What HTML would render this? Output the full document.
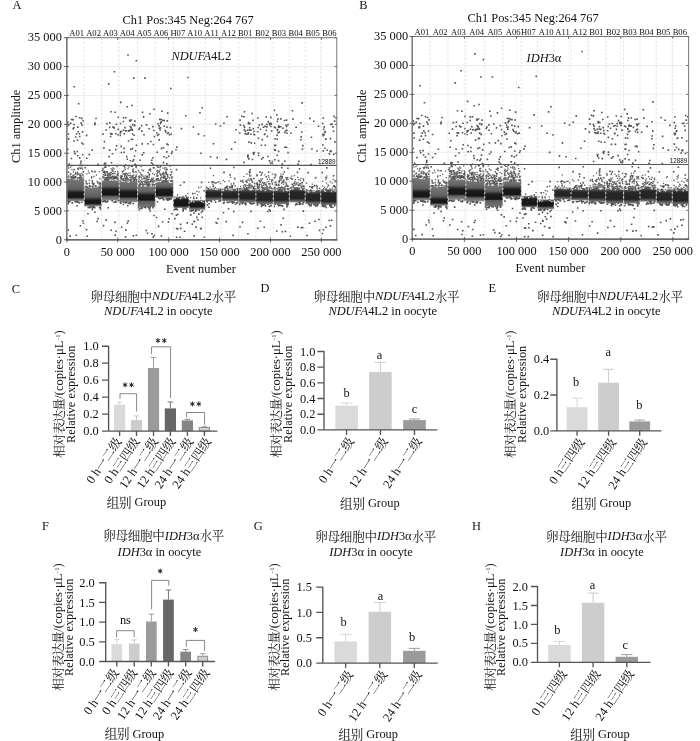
<!DOCTYPE html><html><head><meta charset="utf-8"><title>figure</title><style>html,body{margin:0;padding:0;background:#fff}svg{display:block;will-change:transform}text{font-family:"Liberation Serif",serif;font-size:12.4px;fill:#111}text.cj{font-family:"Liberation Serif","Noto Serif CJK SC",serif}</style></head><body>
<svg width="700" height="741" viewBox="0 0 700 741">
<rect width="700" height="741" fill="#fff"/>
<defs>
<linearGradient id="bg0" gradientUnits="userSpaceOnUse" x1="0" y1="177.5" x2="0" y2="201.2"><stop offset="0.000" stop-color="#7a7a7a"/><stop offset="0.325" stop-color="#6a6a6a"/><stop offset="0.498" stop-color="#5e5e5e"/><stop offset="0.578" stop-color="#3a3a3a"/><stop offset="0.641" stop-color="#1b1b1b"/><stop offset="0.840" stop-color="#161616"/><stop offset="0.899" stop-color="#585858"/><stop offset="1.000" stop-color="#9c9c9c"/></linearGradient>
<linearGradient id="bg1" gradientUnits="userSpaceOnUse" x1="0" y1="185.8" x2="0" y2="206.5"><stop offset="0.000" stop-color="#7a7a7a"/><stop offset="0.351" stop-color="#6a6a6a"/><stop offset="0.531" stop-color="#5e5e5e"/><stop offset="0.623" stop-color="#3a3a3a"/><stop offset="0.696" stop-color="#1b1b1b"/><stop offset="0.850" stop-color="#161616"/><stop offset="0.918" stop-color="#585858"/><stop offset="1.000" stop-color="#9c9c9c"/></linearGradient>
<linearGradient id="bg2" gradientUnits="userSpaceOnUse" x1="0" y1="178.2" x2="0" y2="200.5"><stop offset="0.000" stop-color="#7a7a7a"/><stop offset="0.254" stop-color="#6a6a6a"/><stop offset="0.363" stop-color="#5e5e5e"/><stop offset="0.448" stop-color="#3a3a3a"/><stop offset="0.516" stop-color="#1b1b1b"/><stop offset="0.749" stop-color="#161616"/><stop offset="0.816" stop-color="#5a5a5a"/><stop offset="0.973" stop-color="#888"/><stop offset="1.000" stop-color="#b5b5b5"/></linearGradient>
<linearGradient id="bg3" gradientUnits="userSpaceOnUse" x1="0" y1="180" x2="0" y2="202.2"><stop offset="0.000" stop-color="#7a7a7a"/><stop offset="0.260" stop-color="#6a6a6a"/><stop offset="0.374" stop-color="#5e5e5e"/><stop offset="0.459" stop-color="#3a3a3a"/><stop offset="0.527" stop-color="#1b1b1b"/><stop offset="0.761" stop-color="#161616"/><stop offset="0.829" stop-color="#5a5a5a"/><stop offset="0.973" stop-color="#888"/><stop offset="1.000" stop-color="#b5b5b5"/></linearGradient>
<linearGradient id="bg4" gradientUnits="userSpaceOnUse" x1="0" y1="184.5" x2="0" y2="207"><stop offset="0.000" stop-color="#7a7a7a"/><stop offset="0.232" stop-color="#6a6a6a"/><stop offset="0.324" stop-color="#5e5e5e"/><stop offset="0.409" stop-color="#3a3a3a"/><stop offset="0.476" stop-color="#1b1b1b"/><stop offset="0.689" stop-color="#161616"/><stop offset="0.747" stop-color="#5c5c5c"/><stop offset="0.964" stop-color="#727272"/><stop offset="1.000" stop-color="#9a9a9a"/></linearGradient>
<linearGradient id="bg5" gradientUnits="userSpaceOnUse" x1="0" y1="180.3" x2="0" y2="198"><stop offset="0.000" stop-color="#7a7a7a"/><stop offset="0.264" stop-color="#6a6a6a"/><stop offset="0.356" stop-color="#5e5e5e"/><stop offset="0.463" stop-color="#3a3a3a"/><stop offset="0.548" stop-color="#1b1b1b"/><stop offset="0.842" stop-color="#161616"/><stop offset="0.921" stop-color="#585858"/><stop offset="1.000" stop-color="#9c9c9c"/></linearGradient>
<linearGradient id="bg6" gradientUnits="userSpaceOnUse" x1="0" y1="196.6" x2="0" y2="208"><stop offset="0.000" stop-color="#7a7a7a"/><stop offset="0.106" stop-color="#6a6a6a"/><stop offset="0.000" stop-color="#5e5e5e"/><stop offset="0.167" stop-color="#3a3a3a"/><stop offset="0.298" stop-color="#1b1b1b"/><stop offset="0.798" stop-color="#161616"/><stop offset="0.921" stop-color="#585858"/><stop offset="1.000" stop-color="#9c9c9c"/></linearGradient>
<linearGradient id="bg7" gradientUnits="userSpaceOnUse" x1="0" y1="200.2" x2="0" y2="209.8"><stop offset="0.000" stop-color="#7a7a7a"/><stop offset="0.092" stop-color="#6a6a6a"/><stop offset="-0.062" stop-color="#5e5e5e"/><stop offset="0.135" stop-color="#3a3a3a"/><stop offset="0.292" stop-color="#1b1b1b"/><stop offset="0.677" stop-color="#161616"/><stop offset="0.823" stop-color="#585858"/><stop offset="1.000" stop-color="#9c9c9c"/></linearGradient>
<linearGradient id="bg8" gradientUnits="userSpaceOnUse" x1="0" y1="188.3" x2="0" y2="200"><stop offset="0.000" stop-color="#707070"/><stop offset="0.231" stop-color="#3e3e3e"/><stop offset="0.359" stop-color="#262626"/><stop offset="0.701" stop-color="#242424"/><stop offset="0.838" stop-color="#4a4a4a"/><stop offset="1.000" stop-color="#8a8a8a"/></linearGradient>
<linearGradient id="bg9" gradientUnits="userSpaceOnUse" x1="0" y1="188.8" x2="0" y2="201"><stop offset="0.000" stop-color="#707070"/><stop offset="0.221" stop-color="#3e3e3e"/><stop offset="0.344" stop-color="#262626"/><stop offset="0.713" stop-color="#242424"/><stop offset="0.844" stop-color="#4a4a4a"/><stop offset="1.000" stop-color="#8a8a8a"/></linearGradient>
<linearGradient id="bg10" gradientUnits="userSpaceOnUse" x1="0" y1="188" x2="0" y2="202.5"><stop offset="0.000" stop-color="#707070"/><stop offset="0.241" stop-color="#3e3e3e"/><stop offset="0.345" stop-color="#262626"/><stop offset="0.724" stop-color="#242424"/><stop offset="0.834" stop-color="#4a4a4a"/><stop offset="1.000" stop-color="#8a8a8a"/></linearGradient>
<linearGradient id="bg11" gradientUnits="userSpaceOnUse" x1="0" y1="188.6" x2="0" y2="204.2"><stop offset="0.000" stop-color="#707070"/><stop offset="0.218" stop-color="#3e3e3e"/><stop offset="0.314" stop-color="#262626"/><stop offset="0.731" stop-color="#242424"/><stop offset="0.833" stop-color="#4a4a4a"/><stop offset="1.000" stop-color="#8a8a8a"/></linearGradient>
<linearGradient id="bg12" gradientUnits="userSpaceOnUse" x1="0" y1="188.6" x2="0" y2="204.2"><stop offset="0.000" stop-color="#707070"/><stop offset="0.218" stop-color="#3e3e3e"/><stop offset="0.314" stop-color="#262626"/><stop offset="0.731" stop-color="#242424"/><stop offset="0.833" stop-color="#4a4a4a"/><stop offset="1.000" stop-color="#8a8a8a"/></linearGradient>
<linearGradient id="bg13" gradientUnits="userSpaceOnUse" x1="0" y1="187.6" x2="0" y2="202.3"><stop offset="0.000" stop-color="#707070"/><stop offset="0.197" stop-color="#3e3e3e"/><stop offset="0.299" stop-color="#262626"/><stop offset="0.741" stop-color="#242424"/><stop offset="0.850" stop-color="#4a4a4a"/><stop offset="1.000" stop-color="#8a8a8a"/></linearGradient>
<linearGradient id="bg14" gradientUnits="userSpaceOnUse" x1="0" y1="190" x2="0" y2="204"><stop offset="0.000" stop-color="#707070"/><stop offset="0.214" stop-color="#3e3e3e"/><stop offset="0.321" stop-color="#262626"/><stop offset="0.736" stop-color="#242424"/><stop offset="0.850" stop-color="#4a4a4a"/><stop offset="1.000" stop-color="#8a8a8a"/></linearGradient>
<linearGradient id="bg15" gradientUnits="userSpaceOnUse" x1="0" y1="189.3" x2="0" y2="205"><stop offset="0.000" stop-color="#707070"/><stop offset="0.172" stop-color="#3e3e3e"/><stop offset="0.268" stop-color="#262626"/><stop offset="0.764" stop-color="#242424"/><stop offset="0.866" stop-color="#4a4a4a"/><stop offset="1.000" stop-color="#8a8a8a"/></linearGradient>
</defs>
<path d="M66.8 210.93H336.8M66.8 182.06H336.8M66.8 153.19H336.8M66.8 124.31H336.8M66.8 95.44H336.8M66.8 66.57H336.8" stroke="#ebebeb" stroke-width=".9" fill="none"/>
<path d="M117.72 37.7V239.8M168.64 37.7V239.8M219.57 37.7V239.8M270.49 37.7V239.8M321.41 37.7V239.8" stroke="#ebebeb" stroke-width=".8" stroke-dasharray="2.2 1.6" fill="none"/>
<g id="sc">
<rect x="66.8" y="177.5" width="17.4" height="23.7" fill="url(#bg0)"/>
<rect x="84.2" y="185.8" width="17.4" height="20.7" fill="url(#bg1)"/>
<rect x="101.6" y="178.2" width="17.6" height="22.3" fill="url(#bg2)"/>
<rect x="119.2" y="180" width="18.4" height="22.2" fill="url(#bg3)"/>
<rect x="137.6" y="184.5" width="17.7" height="22.5" fill="url(#bg4)"/>
<rect x="155.3" y="180.3" width="18" height="17.7" fill="url(#bg5)"/>
<rect x="173.3" y="196.6" width="15.7" height="11.4" fill="url(#bg6)"/>
<rect x="189" y="200.2" width="16.3" height="9.6" fill="url(#bg7)"/>
<rect x="205.3" y="188.3" width="16.6" height="11.7" fill="url(#bg8)"/>
<rect x="221.9" y="188.8" width="16.9" height="12.2" fill="url(#bg9)"/>
<rect x="238.8" y="188" width="17.1" height="14.5" fill="url(#bg10)"/>
<rect x="255.9" y="188.6" width="17.4" height="15.6" fill="url(#bg11)"/>
<rect x="273.3" y="188.6" width="16" height="15.6" fill="url(#bg12)"/>
<rect x="289.3" y="187.6" width="15.9" height="14.7" fill="url(#bg13)"/>
<rect x="305.2" y="190" width="15.6" height="14" fill="url(#bg14)"/>
<rect x="320.8" y="189.3" width="16" height="15.7" fill="url(#bg15)"/>
<path d="M76.9 178h0M68.5 168h0M71.2 176.9h0M73.9 169.8h0M72.8 176.1h0M71.5 178.5h0M70.4 167.3h0M81.6 178.6h0M83.3 177.1h0M68.7 176h0M81.3 178.5h0M82.5 169.2h0M69.2 177.5h0M79 173.8h0M73.4 171.8h0M81.7 173.4h0M76.8 178.7h0M82 167.8h0M73.6 177.2h0M73.7 178.9h0M80.9 175.6h0M75.5 172.3h0M78.3 169.3h0M72.6 177.4h0M71.9 169.6h0M68.1 178.8h0M76.6 177.3h0M67.9 166.2h0M68.3 176.8h0M78 174.2h0M70.4 174.9h0M73 175.3h0M79.6 175.1h0M80.6 174.5h0M74.6 177.1h0M80.1 176.4h0M79.1 167.8h0M75.9 178.3h0M73.6 177h0M70.7 178.6h0M74.1 175h0M75.1 178.4h0M77.4 172.2h0M67.9 178h0M77.4 174.9h0M74.5 169.3h0M77.6 172.9h0M82.2 177.7h0M99.9 186.8h0M92.2 180.6h0M86.9 173.8h0M91.6 178h0M99.1 182.8h0M89.3 183.6h0M100.5 183.1h0M91.7 171h0M86.1 180.9h0M89.1 183.4h0M100.7 184.1h0M92.7 171.6h0M86.2 182h0M96.5 175.1h0M94 176.5h0M93.1 185.3h0M99.2 171.7h0M97.1 181.3h0M93.5 186.8h0M96.2 186.6h0M87.3 183.9h0M91.7 176.7h0M92.2 183.5h0M88.4 170.9h0M89.4 180.4h0M99.1 184.2h0M100.2 185.8h0M100 178.5h0M93.2 183.9h0M92.5 181.5h0M89.1 173h0M100.7 185.1h0M92.4 182.5h0M93.3 184.3h0M114.9 173.7h0M108.2 175.3h0M115 177.1h0M102.9 176.4h0M107.8 173.2h0M114 178.8h0M104 176.8h0M106.9 178.5h0M117.5 177.3h0M107.5 174.4h0M109.1 173.7h0M104.4 167.6h0M107.1 178.1h0M109.4 175.9h0M104.7 172.2h0M110.4 175.4h0M110.7 177h0M106 179.4h0M111 178.4h0M102.8 168.5h0M116.7 178.5h0M117 166.7h0M113.1 176.5h0M114 173.4h0M105.6 177.7h0M116.5 179.3h0M105.2 177.7h0M110.6 176.5h0M113 171.1h0M112 179.1h0M109.9 173.1h0M104.3 179.4h0M106 177.7h0M111.8 178.6h0M117 179.6h0M103.1 178.8h0M115.3 171.7h0M111 174.5h0M117.6 171.7h0M112.8 176.1h0M114.1 168.9h0M115.9 176.6h0M110.2 175.1h0M107.4 175.5h0M112.2 170.8h0M114.6 176.2h0M114.8 173.6h0M106.5 178.4h0M116 178.5h0M107.6 178.1h0M116.8 174.8h0M111.1 168.9h0M109.8 174.3h0M110 175.3h0M106.6 178.1h0M104.9 171.4h0M108.3 177h0M108.2 175.1h0M103 177.6h0M107.9 174.5h0M108.3 175.5h0M112.4 169.6h0M115.1 179.3h0M106.4 178.7h0M104.6 175.1h0M111 177.9h0M109.4 177.7h0M114 177.9h0M113.2 171.5h0M107.5 173.7h0M113.1 168h0M108 179.6h0M107 177.3h0M106.7 178.9h0M114.7 178.1h0M110.9 178.7h0M107.6 174.5h0M118.3 175.9h0M103.4 174.5h0M103.1 169.5h0M121.9 176.7h0M123.3 180.6h0M126 181.4h0M121 177.5h0M136.1 172.4h0M122.2 176.4h0M125.7 179.9h0M130.2 173.1h0M130.9 177.5h0M125.9 180.6h0M124.9 167.9h0M120.9 178h0M130.3 181h0M133.8 172.3h0M136.3 166.3h0M135.2 180.7h0M127.2 177.4h0M125.3 169.4h0M128.2 173.4h0M136.2 181h0M124.5 166.7h0M133.8 178.9h0M132.9 178.2h0M127 174.9h0M127.4 180.2h0M127.3 177.6h0M134 177.4h0M136.1 167.6h0M126.3 173.3h0M128.1 179h0M123.9 181.2h0M133.9 174.9h0M123.9 180.1h0M134.3 177.6h0M123.6 178.5h0M129.8 175.4h0M120.3 177.2h0M124.2 174.3h0M135.5 177.3h0M135.8 178h0M125.8 180.6h0M121.1 179.5h0M123.1 174h0M123.3 174.1h0M121.3 176.9h0M125 181.1h0M136.2 180.5h0M136.4 165.9h0M125.8 178.9h0M127.6 174.1h0M128 168.6h0M131 178.1h0M132.9 178.2h0M133.2 171.9h0M131.4 180.7h0M135.8 171.7h0M123 171.3h0M132.8 169.4h0M125.5 180.3h0M136.4 174.8h0M135.9 179.1h0M126.7 181.2h0M132.4 166.7h0M133.5 169.2h0M125.1 173.1h0M130.5 175.5h0M129.1 179.7h0M136.6 179.7h0M123.9 170.4h0M128.4 175.7h0M121.4 181h0M123.6 173.7h0M133.4 181.2h0M131.2 180.4h0M131.7 179.5h0M120.9 175.6h0M134.7 179.4h0M123.8 166.2h0M124.6 176.7h0M124.7 180.9h0M129.8 177.5h0M128.9 167h0M126.8 180.7h0M151.5 178.5h0M153.3 178h0M150.7 169.5h0M149.2 175.6h0M149.4 183h0M148 184.8h0M144.6 181.2h0M149.3 177.1h0M138.4 170.4h0M144.3 184.5h0M141 174.3h0M142.3 182h0M145.5 182.3h0M142 184.9h0M147 183.5h0M144.1 177.1h0M152.4 185.1h0M150 184.4h0M143.4 184.5h0M142 169.7h0M152.7 181.8h0M138.5 180.8h0M145.1 179.1h0M142.7 179.1h0M149.6 170h0M148.9 179.3h0M147.9 172.4h0M148.8 170.1h0M139 178.5h0M152.5 173.5h0M148.3 173h0M140.7 183.9h0M154.4 180.3h0M141.3 182.1h0M150.5 181.8h0M154.3 167.9h0M152.1 184.7h0M142.6 184.5h0M148.8 185.9h0M140.3 172.8h0M146.2 183.8h0M141.7 179.1h0M149.2 185.1h0M146.5 183.2h0M145.8 184.4h0M153.2 181.6h0M146.1 184.8h0M139.9 183.1h0M144.4 184.4h0M143.6 170.8h0M141.8 174.9h0M139.9 176.8h0M148.2 185.2h0M139.9 185.1h0M143.4 170.6h0M140.7 180.6h0M141.3 177.3h0M149.8 185.6h0M154.2 174.5h0M141.3 174.4h0M146.7 176.9h0M142.3 183.5h0M146.6 184.7h0M142 175.7h0M146.5 178.1h0M154.2 181.6h0M142.4 184.2h0M147.6 179.6h0M147 185.6h0M139.4 181.5h0M141.7 182.1h0M139.7 175.9h0M145.9 181h0M145.5 175.8h0M150.6 171.2h0M148.5 179.7h0M143.2 176.1h0M138.9 171.9h0M141.1 181.6h0M145.1 178.2h0M148.8 184.1h0M139.3 179.1h0M148.5 185.2h0M148.8 183.5h0M152 184.2h0M152.1 184.2h0M147.5 180h0M143.9 178.4h0M146 184.9h0M143.5 184.1h0M153.1 182.2h0M152.2 182.1h0M143.1 181.5h0M145.7 184.5h0M138.5 181.9h0M151.4 181.2h0M141 166.6h0M144.6 182.7h0M140.6 185.4h0M147.8 178h0M156.9 171.3h0M166.6 173.2h0M156.1 179.6h0M157.7 172.2h0M170.8 169.5h0M157.1 174.2h0M158.2 179.7h0M165.4 181.6h0M166.1 170h0M169.1 177.3h0M156.5 178.9h0M171.3 177h0M167.6 176.7h0M160.6 175.1h0M171.9 171.7h0M156.9 175.3h0M159.7 181.1h0M163 168.2h0M166.1 174.4h0M159.9 179.8h0M172 177.5h0M171.1 174.5h0M159.4 171.5h0M157 176.4h0M164.9 178.5h0M164 176.9h0M171.5 172.5h0M158.1 180.9h0M166.7 168.1h0M157 178.7h0M165.4 181h0M157 179.5h0M158.4 178.4h0M157.4 173.2h0M160.6 179.7h0M166.5 179.2h0M156.8 180.9h0M156.3 180.7h0M165.6 179.7h0M166.1 180.4h0M161.2 175.1h0M160 167.7h0M170.3 174.9h0M162.1 177.3h0M163.3 174.7h0M157.4 170.3h0M166 174.2h0M167.4 175.6h0M163.2 178.1h0M165.8 172h0M166 178.3h0M172.5 177.2h0M163.6 180.3h0M171.8 178.5h0M170.4 175.4h0M159.9 173.6h0M163.9 175.5h0M167.8 174.6h0M172.3 181h0M170 166.3h0M156.9 166.2h0M162.2 180.4h0M157.6 178.7h0M167.4 169.7h0M166.7 174h0M165 167.5h0M167.3 178.1h0M164.9 181.7h0M157.8 178.4h0M164.2 180.9h0M171.3 172.2h0M161.9 176.8h0M160.2 174h0M163.2 172.3h0M165.1 176.8h0M158.6 181h0M158.2 175.9h0M168.2 181.2h0M157.2 176.4h0M169.3 178.1h0M164.7 168.8h0M160.1 169.8h0M161.1 175.5h0M187.7 193.4h0M186.1 196.2h0M182.1 198.1h0M177.5 195h0M183 196.3h0M185.9 195.5h0M181.3 197.6h0M201 187.2h0M200.7 200.3h0M198.9 191.9h0M201 201.1h0M195.1 193.3h0M190.6 197.7h0M198.7 187.5h0M197.5 194.8h0M196.9 191.3h0M193.6 196.8h0M200.6 197.9h0M220.6 183.7h0M215.3 189h0M215.1 183.4h0M216.6 182.9h0M214.5 189.4h0M213.1 182.1h0M212.9 184.5h0M215.3 187.4h0M208.2 188.5h0M206.5 187h0M219 181.9h0M214.8 182.7h0M218.1 182.2h0M210 187.2h0M207.1 187.9h0M213.4 175.7h0M208.7 182.4h0M233.7 183.1h0M229.1 180.8h0M233.8 184h0M223.3 180.4h0M230.5 177.3h0M227.8 188.2h0M224.6 181.7h0M225.3 188.4h0M226 188h0M223.4 189.8h0M232.8 189.7h0M226.7 187.6h0M229.2 186.9h0M231.2 184h0M227.5 186.1h0M233.5 189.5h0M235.2 186h0M227.2 188.6h0M249.7 176.1h0M240.1 189h0M245.4 186.6h0M247.2 188.2h0M252.1 185.8h0M251 186.8h0M249.5 174h0M243.4 185.7h0M251.7 185.4h0M248.8 178.8h0M254.9 183.9h0M249.7 180.6h0M246.1 185.3h0M241.1 180.6h0M247 180.2h0M243.4 189.1h0M239.9 189h0M252 180.4h0M249.1 188.3h0M250.1 186.8h0M240.6 186.5h0M246.9 174h0M250 183.8h0M246.4 181.1h0M246.6 187.4h0M251.1 187.9h0M254.6 186.1h0M244.1 187.7h0M245.8 181.3h0M250.7 178.9h0M242.7 181.6h0M248.8 184.1h0M247.9 180.1h0M249.3 185.6h0M250.6 189.3h0M243.5 187.3h0M241.1 180.6h0M252 180.2h0M247.9 185.7h0M249.2 186h0M251.9 180.5h0M247.4 188.5h0M240.8 181.3h0M254.9 186.5h0M252.1 181.5h0M252.4 182.3h0M249.8 184.3h0M243.2 182.6h0M252.7 186.8h0M253.3 187h0M249.6 175.8h0M254 189h0M243.9 176.7h0M250.9 175.9h0M242.8 180.3h0M250.8 185.3h0M247.9 188h0M251.3 185.4h0M246.7 188.3h0M254.4 183.2h0M267.2 189.8h0M256.9 174.5h0M266.4 187.2h0M267.4 179.1h0M271.1 188.6h0M267 182.2h0M267.7 187.8h0M268.6 181.3h0M263.3 182.8h0M257.7 188.7h0M259.5 187.2h0M261.9 189.1h0M271.6 187.7h0M260.7 179.2h0M263.6 188.2h0M272.4 189.1h0M268.9 177.4h0M261.9 185.4h0M265.6 189.3h0M265 187.5h0M261.8 185.4h0M262.5 178.7h0M271.8 180.1h0M262.4 182.5h0M271.5 181.4h0M267.6 187h0M269.6 179.3h0M260.3 181.9h0M257.3 188.1h0M261.4 174.5h0M257.3 186.4h0M264.6 182.7h0M259.7 186.9h0M258.8 180.5h0M258.5 186.3h0M272.2 183h0M268.4 175.7h0M261 184.2h0M261.1 175.4h0M257.8 184.4h0M262.3 187.7h0M257.1 182.4h0M269.8 184h0M266.7 185.7h0M261 189.9h0M259.5 184.2h0M263.3 187.6h0M264.9 174.9h0M265 189.3h0M272.4 184.3h0M263.6 185.3h0M262.1 186.4h0M265.1 189.6h0M261.4 180.5h0M257.3 184.9h0M270.1 186.5h0M269.9 189.6h0M269.9 186.1h0M257 189.9h0M267.4 189.4h0M257.6 186.6h0M262.4 189.7h0M272.4 174.2h0M259.2 180.7h0M267.7 190.1h0M260.1 181.6h0M269.5 183.8h0M268.7 189.4h0M257.6 187.9h0M259.3 184.9h0M266 184h0M257.5 189.3h0M267 188.2h0M270.6 189.7h0M267.1 189.9h0M259.5 185.3h0M257.4 183.7h0M283.2 174h0M281.6 183.3h0M286.1 182.5h0M274.1 188.5h0M275.9 182h0M279.2 182.5h0M280.2 178.7h0M280 187.4h0M286.7 185.1h0M285.8 186.1h0M278.5 184.5h0M288 179.7h0M279.3 189.9h0M287.8 189.3h0M282.7 187.8h0M277 189.2h0M286.5 184.5h0M277.9 189.2h0M276.8 185.4h0M279 180.9h0M283.5 184.4h0M279.7 180.3h0M281.7 186.8h0M283.7 180h0M283.4 187.8h0M283.5 181.3h0M276.3 183.9h0M283.8 182.6h0M286.6 178.7h0M281.2 180h0M283.2 188.5h0M278 188.9h0M275.1 184.8h0M286.6 185.6h0M280.9 174.1h0M285.6 190h0M284.1 180.7h0M279.4 187.3h0M278.4 187.5h0M286 183h0M275 182.6h0M285.8 177.7h0M280.2 188.1h0M282.9 189.1h0M283 182.2h0M277.7 188.6h0M276.5 188.9h0M280.4 189.3h0M288.3 188.6h0M275.8 175h0M285.4 189.6h0M287.3 185.9h0M284.9 186.8h0M284.8 187.5h0M282 182.3h0M286.5 179.5h0M287.7 186.6h0M279.9 177.2h0M279.9 178.4h0M281.9 187h0M281 187.7h0M275.5 176.9h0M282.9 181.5h0M282 178.6h0M282.3 187.4h0M285.9 186h0M300.4 180.1h0M295.5 179.7h0M303.5 179h0M302.5 182.5h0M303.6 180.6h0M291.7 187.3h0M294.9 181.3h0M291.1 187.4h0M303.8 186.3h0M298 182.7h0M299.7 188.4h0M296.9 187.8h0M301.9 184.2h0M298.8 179.7h0M295.1 185h0M301.1 178.3h0M301.9 186.5h0M302.2 182.4h0M301.6 186.5h0M291.8 176.2h0M298 185.2h0M294.4 175.6h0M298 188.7h0M299.5 183.8h0M300.6 185.6h0M298.4 185.5h0M293.4 185.4h0M297.7 177.5h0M303.1 185.8h0M301.3 187.1h0M303.4 180.2h0M294.9 187.5h0M297.9 188.5h0M296.2 182.9h0M301.3 188h0M300.6 183.5h0M294.6 183.5h0M306.5 183.3h0M317.7 188.9h0M311 191h0M306.7 189.7h0M307.3 190.2h0M317.4 186.3h0M312.3 184.2h0M307.2 191.5h0M316.1 185.8h0M319.6 188.4h0M316.8 187.8h0M316.4 185.8h0M307.5 191.3h0M316 177.5h0M315.2 178.4h0M319.8 188.7h0M309.6 186.7h0M316.6 185.3h0M335.4 186.8h0M324.6 187.4h0M333.3 179.3h0M325.7 179.7h0M327.4 187.2h0M323.6 188.7h0M333.9 185.6h0M332.3 188.2h0M330.3 189.6h0M328.6 185.8h0M332.4 183.1h0M325.5 177.5h0M322.9 190.1h0M322.6 181.2h0M334.8 180.9h0M333.3 186h0M329.8 188.9h0M326.6 178h0M336 180.3h0M330.3 181.9h0M326.8 176.2h0M334.8 186.2h0M328 184.8h0M322.7 186.1h0M333.2 190h0M333.7 190h0M326.5 183.1h0M335.2 188.2h0" stroke="#646464" stroke-width="1.3" stroke-linecap="square" fill="none"/>
<path d="M74 179.2h0M67.8 178.3h0M78.4 179.6h0M82.9 178.2h0M75.6 179.3h0M75.5 179.2h0M70.6 178.1h0M69.2 178h0M76.3 178.9h0M76.6 178.2h0M70.5 178.3h0M96.2 186.7h0M93.9 187.1h0M85.1 188h0M97.7 186.6h0M94.7 186.8h0M90.9 187.2h0M89.7 186.9h0M91.2 187.5h0M89 186.6h0M115.9 180h0M102.7 179h0M103.4 179.7h0M111.7 179.2h0M110 180.3h0M110.4 180.1h0M116.6 180.1h0M103.5 179.4h0M117.2 180.2h0M114.9 179.6h0M102.5 180h0M113 180.3h0M103.2 179.8h0M128.9 180.8h0M132.9 180.6h0M122.5 181.4h0M124.6 181.7h0M132.2 181h0M132.9 181.6h0M131.9 181.3h0M127.3 180.6h0M128 182.2h0M135 180.6h0M121.2 180.9h0M131.7 181.2h0M122.1 181.2h0M129.6 181.8h0M144.5 186.2h0M150.9 186.7h0M145 185.8h0M153.4 186h0M149.7 185.1h0M145.5 185.4h0M141.1 186h0M144.5 185.8h0M151.4 185.2h0M147.3 185.9h0M141.3 185.6h0M146.7 185.9h0M169.7 181.5h0M165.2 181.7h0M162.1 180.8h0M160.6 181.6h0M171.7 181h0M170.9 182.5h0M169.1 181.3h0M156.4 182.3h0M157.2 181.3h0M171.5 182h0M169.6 182.3h0M159 181.7h0M157.6 181.4h0M175.2 198.2h0M180.5 198.6h0M174.7 198.5h0M185.2 197.6h0M174.7 198.7h0M203.2 202.4h0M201.5 201.3h0M193.7 201.8h0M191.6 201h0M191.1 201.8h0M215.3 189.4h0M207 189.4h0M213 189.1h0M219.1 188.8h0M210.2 188.9h0M216 188.9h0M217.3 189.7h0M236.5 189.9h0M226.4 189.4h0M230.9 189.9h0M237.3 190.4h0M229.3 189.5h0M223.4 190.5h0M232.1 190.1h0M249 188.5h0M252.5 188.7h0M251 190.1h0M242.9 189h0M250.8 188.9h0M251.5 189.3h0M250.9 189.8h0M252.8 189.1h0M253.4 189.4h0M241.1 189.8h0M249.7 189.7h0M257 189.1h0M265.5 189.9h0M265.4 190.6h0M270 189.3h0M272.1 189.9h0M264.1 189.3h0M260.4 189.4h0M261.1 190h0M260.8 189.5h0M258.4 189.2h0M271.1 189.8h0M285 189.5h0M274.8 190.1h0M276.5 190.1h0M283.5 190.8h0M284 189.6h0M276.9 189.5h0M286.7 190.7h0M287.8 190.6h0M286.1 189.5h0M286.7 190.3h0M280.3 190.3h0M290.5 189.7h0M304.1 189.5h0M292.8 189.2h0M292.9 188.6h0M301.4 189.7h0M290.2 189.5h0M300.3 189.3h0M292.2 188.7h0M300.8 188.4h0M310.2 190.7h0M312.9 190.8h0M315.2 190.6h0M307.9 191.2h0M314.1 191.5h0M308.6 192.2h0M331.5 191.5h0M335.6 190.8h0M334.9 190.8h0M324.5 190.7h0M325.4 191.4h0M333.2 189.9h0" stroke="#fff" stroke-opacity=".8" stroke-width="1.3" stroke-linecap="square" fill="none"/>
<path d="M82.9 175h0M83.4 171.9h0M81 177h0M73.9 177.8h0M80.6 168.4h0M70.8 174h0M78 168.6h0M79 177.8h0M74.9 177.4h0M68.6 172.3h0M75.4 176.9h0M75.8 173.9h0M71.2 177.1h0M81.7 165.4h0M71.4 158.5h0M71.7 165.6h0M80.8 163h0M80.1 165.4h0M83.3 144.1h0M69.1 164.1h0M82.7 154.8h0M79.7 157.9h0M75 153.6h0M74.4 151.6h0M67.8 149.3h0M81 161.3h0M74 141h0M70.7 123.3h0M67.8 122.1h0M81.8 118.4h0M81.2 123.1h0M77.6 140.2h0M75.6 137h0M83.2 120.8h0M82 125.1h0M79.4 133.7h0M74 124.6h0M81.8 143h0M79.7 117.7h0M79.7 136.5h0M68.7 138.9h0M73 119.6h0M73.2 128.6h0M77.7 127.1h0M82.6 131.9h0M78.1 131.8h0M76.6 134h0M76 116.5h0M77.8 155.8h0M78.7 103.8h0M67.9 125.6h0M77.3 151.5h0M73.9 127.8h0M68.4 134h0M69.1 124.5h0M71.5 119.5h0M76.3 235.2h0M82.9 221h0M83.4 223.2h0M80.4 225.7h0M77.1 205.7h0M68.3 230h0M70.1 236.1h0M75.1 201.8h0M77.3 202.3h0M68.5 202.2h0M75.9 201.5h0M77.1 201.7h0M78 201.8h0M76.5 201.5h0M72.3 202.9h0M67.8 201.2h0M70 201.5h0M79.5 203h0M79.4 202.6h0M68.3 203.8h0M68.7 201.3h0M81.9 202.3h0M97.9 182.6h0M100.1 183.5h0M94.9 171.6h0M89.8 185.8h0M93.9 183.9h0M86 186.7h0M95.6 185.9h0M89.8 186.5h0M86.4 183.7h0M92.3 150.1h0M98.1 164.2h0M85.1 167.7h0M86.7 158.3h0M89.3 154.6h0M95.1 123.1h0M86.6 135.4h0M94.8 124.6h0M95 212.2h0M88 213.7h0M92.3 209.4h0M86.5 229.6h0M100.6 209.2h0M97.2 221.4h0M98 218.6h0M87.2 236.3h0M88.2 207.5h0M92.6 207.8h0M99.6 207.7h0M94.7 207.7h0M90 206.6h0M100.6 207.3h0M93.4 206.5h0M89.8 207.2h0M92 207.1h0M90.2 206.7h0M89.6 207.8h0M89 207.5h0M93.5 206.7h0M94.7 207.2h0M93.1 207.1h0M105.1 173.4h0M102.4 170.5h0M113.5 178.2h0M107.1 171.7h0M106.3 178h0M111.1 172.5h0M113.5 178h0M118.1 173.2h0M117.8 174.9h0M114.9 178h0M104.3 171.6h0M103.5 172.3h0M112.4 176.8h0M114.3 177.3h0M108.5 177.5h0M116.9 177.7h0M105.7 167.3h0M107.3 179.6h0M105.6 175.3h0M112.7 173.7h0M115.8 177h0M111.3 177.9h0M106.7 171.9h0M104.5 163.9h0M105.7 163.6h0M104.9 163.3h0M105.3 166h0M108.8 165.8h0M103.9 148.1h0M116.6 145.7h0M112.5 153.8h0M111.5 162.8h0M115.8 149.6h0M109.6 150.1h0M109.1 156.6h0M106.1 130h0M110.6 136.5h0M102.9 134.1h0M111.9 133.9h0M111.9 134.1h0M109.9 122.9h0M118.3 129.4h0M114.2 127.9h0M118.3 134.9h0M104.4 141.6h0M118.3 117.3h0M115.9 133.7h0M112.8 127h0M115.2 112.3h0M110.6 133.6h0M116.4 124.2h0M113.8 127.5h0M109.7 127.4h0M111 111.7h0M106.9 123.6h0M103.5 225.6h0M115 222.4h0M106.2 220.1h0M116.1 231.3h0M111.2 230.2h0M115.2 235.1h0M108.2 207.8h0M104 201h0M102.9 201.7h0M115.8 202.3h0M104.2 200.9h0M116 201.4h0M112.3 200.8h0M118.3 200.7h0M105.7 202h0M114.1 202.1h0M105.5 201h0M102.6 201.5h0M107.8 201.1h0M106.8 201.9h0M112.1 200.7h0M104.4 201.1h0M126.5 176.4h0M136 176.3h0M130.9 181.4h0M122.6 179.2h0M126.7 178.3h0M132.7 175.9h0M132.9 171.1h0M132.1 176.6h0M134.4 179.5h0M121.7 176.1h0M125.2 174.7h0M133.2 181.2h0M136.1 166.4h0M131.6 166.3h0M122.4 171.8h0M127.6 179.7h0M121.3 177.8h0M134.4 180.2h0M124.8 175h0M133.4 178.4h0M125.1 178.4h0M130.4 180.1h0M136.2 165.3h0M127.3 159.2h0M132.8 161.3h0M130.8 149.4h0M135.2 164.4h0M129.1 130.6h0M133.7 159.9h0M134.5 156h0M121.4 152.5h0M124.1 152.3h0M126.8 156.6h0M132.5 148.6h0M130.4 160.7h0M124.1 148.4h0M136.6 145.3h0M135.6 150.7h0M125.6 165h0M129.7 120.3h0M132.4 139.3h0M120.5 123.5h0M121.5 131.5h0M131.1 128h0M123.4 121.5h0M120.3 132.9h0M134.7 125h0M132.4 130.1h0M130.5 130h0M131.4 139.5h0M128.5 131.3h0M134.9 121.1h0M121.2 146.4h0M130.2 126.5h0M130.1 121.2h0M123.5 117.8h0M125 127.6h0M129.9 130.3h0M132.2 129.5h0M134.1 135.3h0M125.8 130.7h0M126.4 130.7h0M134.5 125.7h0M132.6 134h0M127.3 106.8h0M123.6 130.2h0M131 127.3h0M132 105.5h0M125.7 117.7h0M124.3 133.9h0M131.5 120h0M120.4 131.6h0M132.7 124.6h0M128.6 141h0M120.3 135.4h0M125.8 230.1h0M125.5 236.9h0M133.4 235.9h0M128.2 221.1h0M136.3 235.3h0M121.6 227.3h0M127.8 205.6h0M127.4 223.2h0M120.3 202.4h0M120.8 203.3h0M120.1 202.8h0M126.1 202.3h0M123.6 202.3h0M129.7 202.7h0M128.6 203.2h0M126.8 202.4h0M133.3 203.6h0M130.3 203.6h0M123.4 204.5h0M130.7 202.5h0M120.4 202.2h0M120.9 202.4h0M129.8 202.6h0M125.5 202.9h0M151.1 180h0M148.3 181.9h0M147.4 176.4h0M152.9 181h0M154.4 184.7h0M152.6 179.3h0M147.2 179.7h0M149.5 174.4h0M139.7 184.6h0M150.2 169.2h0M153.1 184.4h0M146.7 182.3h0M147.9 185.4h0M150.4 181.3h0M138.8 176.8h0M149.2 184.6h0M153.5 167.8h0M147 184.4h0M152.9 164.4h0M152.9 157.7h0M140.2 160.2h0M151.6 162.9h0M143.7 152.8h0M148 143.8h0M153.4 144.5h0M151.8 160.2h0M142.3 154.9h0M144 134.7h0M154.4 136.6h0M139.8 128h0M141.7 125.8h0M139 129.4h0M142.2 143.9h0M152.9 126.6h0M142.6 112.2h0M154.1 109.3h0M150 113.8h0M150.8 141.5h0M146.6 124.9h0M149.1 128.8h0M143.6 116.9h0M154.1 130.5h0M141.8 131.1h0M153.9 215.5h0M153.3 237.1h0M152.1 233.8h0M147.5 233.2h0M150.2 211h0M151.9 233.7h0M139.3 210h0M146.3 230.5h0M154.4 235.4h0M145.6 207.7h0M149.6 208.4h0M144.3 207.2h0M152.9 207.3h0M150.1 207.3h0M141.7 208.1h0M145.7 207.5h0M140.1 208.2h0M138.4 207.6h0M142 207.4h0M141.9 208.4h0M153.1 207.8h0M149.3 209.1h0M148.2 207.2h0M150.2 207.7h0M165.8 179.1h0M162.6 181.7h0M162.4 174h0M158.1 167.1h0M160.8 178h0M171.3 181.3h0M166.1 172.6h0M172.2 180.7h0M166.3 181.5h0M164 177.1h0M159 171.6h0M160.6 166.1h0M165.8 181.3h0M164 173.5h0M163.6 181.7h0M164.8 176.2h0M163.4 162.8h0M166.5 157.7h0M168.7 156.2h0M168 144.7h0M163.5 162.6h0M166.8 163.9h0M161.5 148.4h0M167 144h0M163.5 147.8h0M172.3 151.6h0M166.9 151.9h0M164 156.7h0M157.2 152.3h0M171.6 153.4h0M168.4 132.7h0M162.1 111.3h0M164.2 120.6h0M159.8 119.4h0M170.4 127.6h0M165.9 132h0M160.5 127.9h0M156.8 133h0M165.2 130.5h0M159.2 139.9h0M162.5 120.3h0M167.6 133.5h0M169.6 134.7h0M161.4 122h0M167.3 120.9h0M167.7 113.1h0M159.3 128.2h0M157.5 135.4h0M157.9 123.8h0M160.1 130h0M161 119.5h0M166.9 127.1h0M160.8 122.3h0M159 125.9h0M171.3 134h0M164.2 126.3h0M160.5 123.5h0M158.8 134.5h0M156.5 217.5h0M162.6 221.7h0M172 213.7h0M169.2 218.7h0M168 200.1h0M157.4 201.8h0M161.3 236h0M158.6 226.4h0M168.4 222.1h0M164.8 209.2h0M170.1 198.8h0M161.5 198.1h0M168.3 198.3h0M166.9 199.7h0M166.5 199h0M168.9 198.7h0M170 199.5h0M166.3 198.7h0M159.9 198.7h0M163 198.3h0M167.2 198.9h0M168.5 199.4h0M171.3 198.8h0M164 199.6h0M158.7 198.3h0M163.3 199.6h0M180.5 185.3h0M176.5 169.6h0M184 182.4h0M176.9 147.1h0M181.4 128.6h0M185.8 115.8h0M176.6 228.5h0M176.6 237.2h0M180.6 224.4h0M177.8 214.5h0M176.4 215.1h0M183.2 210.9h0M177.6 228.9h0M180.1 237.2h0M187.2 222.9h0M180.7 228.4h0M184.6 231.3h0M175 218.6h0M184.4 208.3h0M184.7 208.4h0M184.6 208.3h0M176.5 208.4h0M183.1 209.4h0M175.1 209.1h0M175.6 209.3h0M174.6 209.8h0M183 209.1h0M177.3 209.8h0M186 209h0M184 208.4h0M174.2 209.7h0M176.5 209.1h0M204.1 190.7h0M196.6 198.1h0M193.8 198.5h0M192.8 193.6h0M201.6 182.4h0M201 153.2h0M202.3 107.7h0M204.4 135.8h0M193.3 127h0M194.5 221.8h0M196.1 227.1h0M198 219.8h0M202.3 217.3h0M194.2 235.9h0M194 213.1h0M204.4 237.2h0M198.9 214.1h0M200.6 228.5h0M192.3 224.1h0M201.2 228.6h0M194.1 221.2h0M190.8 214.9h0M196.8 217.4h0M202.6 210.9h0M195.6 210.6h0M195.7 210h0M195.7 211.2h0M191.5 210.9h0M196 210.3h0M193.3 210.4h0M191.9 210.1h0M201.4 212.2h0M189.9 210.7h0M196.8 209.8h0M199 210.2h0M190.6 210.8h0M195.5 210.4h0M213.3 186.4h0M212.1 182.4h0M212.9 181.8h0M210.6 156.7h0M210.4 168.2h0M217.2 157.6h0M213.5 143.8h0M215.7 124h0M220.4 126h0M208.9 207.2h0M218 218.7h0M216 222.5h0M209.1 203.7h0M217 223.3h0M207.4 205.1h0M210.8 200.8h0M208.6 200.5h0M207.2 201.6h0M215.6 202.1h0M219.9 201h0M211.6 201h0M218.8 201.2h0M219.9 200.8h0M220.5 200.7h0M207.3 200.8h0M214.5 200.2h0M211.4 201.6h0M206.2 200.4h0M210.1 200.3h0M229.9 187.8h0M232.1 187.6h0M225.3 187.8h0M226.6 186.5h0M231 186.6h0M237.4 188.5h0M234.7 178.6h0M232.4 185.9h0M237.7 190.2h0M233.9 167.5h0M224 172.4h0M230.2 174.9h0M226.5 159.4h0M231.6 149.1h0M235.1 142.2h0M224 123.2h0M236 129.8h0M223.5 212.7h0M233.1 235.4h0M233.8 211.5h0M226.2 221.6h0M228.5 208.7h0M234.2 202.2h0M232.6 203.3h0M236.6 202.9h0M235.4 204h0M237.8 202h0M224.2 202.4h0M229.9 201.9h0M227.2 202.3h0M233.4 202.1h0M232.1 201.9h0M231.8 201.5h0M228 202.4h0M237.4 202.7h0M223.6 203.1h0M228.2 202.5h0M248.9 187.7h0M253.4 187.7h0M244.9 184.8h0M247 189.4h0M246.8 182.3h0M253.9 178.5h0M253.8 188.6h0M251 179.1h0M250.1 169.9h0M243.9 162.4h0M249.5 171.8h0M251.3 142.9h0M250 172.5h0M247.7 155.6h0M248.9 158.9h0M253.7 154.3h0M252.5 159.5h0M253.4 152.9h0M248.1 155.4h0M254.2 152.5h0M247.9 157.1h0M246.5 134h0M243.7 125.6h0M240 120.1h0M249.9 123.5h0M244.5 111.8h0M243.8 116.8h0M250.8 134.2h0M244.3 129.6h0M240.4 125.1h0M253.3 128.6h0M249.6 129.9h0M245.2 133.6h0M248 134.3h0M249.7 127.7h0M248.4 123.6h0M248.4 132.9h0M253 120.4h0M254 134.4h0M254.7 134.8h0M248.6 122.6h0M249 142.1h0M247.6 130.3h0M245.4 131.1h0M239.7 133h0M251 130.3h0M254.7 143.2h0M244.6 127.2h0M253.9 131.5h0M252 113.5h0M241.9 116.3h0M251 211.4h0M240 226.7h0M242.5 222.4h0M247.9 233.7h0M245.7 204.7h0M239.7 204.4h0M250.8 203.7h0M239.6 203.2h0M249.7 202.8h0M251.5 203h0M243.4 202.6h0M251 203.2h0M254.1 203.2h0M245.9 203.4h0M245 203.8h0M251.9 203.8h0M252.4 204h0M242.3 203.6h0M241.5 202.8h0M253.8 203.3h0M266.3 176.8h0M258.2 188.1h0M262.2 187.3h0M257 175.8h0M265.2 189.2h0M263.7 188.7h0M272.4 180h0M257.4 184.6h0M256.7 183.8h0M269.6 187.5h0M260 181.6h0M265.6 184.7h0M264 183.8h0M260 181.2h0M269 183.7h0M268.7 172.3h0M270.5 163h0M262.3 172.7h0M260 172h0M272.2 163.5h0M258.5 155.5h0M267.9 156.5h0M261.6 159h0M263 157.6h0M258.5 153h0M261.4 145.3h0M272.4 161.5h0M269.5 160.9h0M270.9 117.4h0M265.3 145.3h0M266.9 126.9h0M262.3 139.6h0M268.3 121.6h0M264.5 134.5h0M263.5 127.2h0M267 124.4h0M267.4 136.4h0M257.7 131.7h0M260.5 129.2h0M270.9 126.5h0M265 126.4h0M257.7 118h0M258.4 138.3h0M266.3 130.3h0M271.3 124.3h0M269.6 124.6h0M264.8 134.1h0M269.5 123.6h0M270.7 123.3h0M262.2 124.4h0M259.4 125h0M258.3 127.5h0M271.6 131h0M266.2 117h0M270.2 211.1h0M267.7 211.5h0M257.9 228.2h0M260.4 221.3h0M269.3 209.7h0M264.2 227.2h0M271.1 205.5h0M262.6 204.3h0M262.1 205.2h0M269.4 206.4h0M264.6 204.2h0M257.5 204.9h0M261.7 204.3h0M261.7 204.5h0M261.5 206.5h0M261.6 205.1h0M261.4 204.6h0M267.9 204.2h0M263.3 205.1h0M265.4 205.9h0M270.9 205.6h0M275.1 174.5h0M280 190.1h0M278.9 185.3h0M276.5 185h0M274.2 177.7h0M282.1 176.6h0M284.6 189.6h0M279.4 181.3h0M282.2 177.1h0M287.9 189.1h0M280.2 189.2h0M284.9 189.1h0M274.9 187.6h0M288 186.3h0M287.6 177.7h0M280.9 176.4h0M278.6 160.6h0M287.9 168.3h0M281.8 167.6h0M274.8 159.7h0M284.3 172h0M278.6 151.4h0M274.8 145.4h0M275.6 145.3h0M286.5 147.3h0M284.9 161.2h0M282.3 164.1h0M284.9 147.3h0M277.1 155.3h0M275.4 150.1h0M282.9 128.3h0M286.8 130.3h0M278 119.1h0M274.3 110.4h0M276.8 114.8h0M286.5 120.1h0M285.9 130.7h0M278.8 126h0M278.4 126.9h0M280.7 126.8h0M275.2 138.8h0M274.1 127.1h0M284.5 120.5h0M287 133.3h0M277.3 139.2h0M277.1 135.3h0M288.1 152.6h0M277.4 129.5h0M279.3 132.1h0M278.1 132.7h0M280.8 118.9h0M275.3 127.6h0M286.1 125.3h0M277.5 130.4h0M279.2 127.1h0M287.9 124.8h0M284.8 132.4h0M277.4 121.4h0M286.5 126.4h0M274.6 149.9h0M285.5 231.4h0M282.4 231.8h0M283.9 209.4h0M281.1 224.9h0M276.7 231h0M283.2 218.2h0M287.1 206.4h0M277.9 204.3h0M280.2 205.4h0M275.2 204.3h0M279.4 205.1h0M286.8 204.6h0M287 206.6h0M288.2 204.4h0M274.2 206.4h0M278.5 205.6h0M279.3 205.5h0M282.2 206h0M282.6 206.1h0M281.5 205.5h0M294.2 183.2h0M293.1 186.7h0M292.3 179.2h0M291 178.3h0M296.5 184h0M303.8 186.4h0M297.3 188.4h0M292.3 184.4h0M299 185.1h0M295.8 188.8h0M298.1 164.1h0M302.4 149.2h0M299.5 168.7h0M297.5 172.4h0M302.8 145.6h0M298.9 161.4h0M300.9 122.7h0M292.5 110.7h0M290.9 133.2h0M293 119.1h0M296.1 127.3h0M300.9 139.7h0M301.8 132h0M296.3 127.3h0M301.2 136.9h0M290.3 236.2h0M297.8 227.1h0M302.7 227.5h0M303.3 211.1h0M301.4 227.8h0M303.5 202.4h0M300.8 203.8h0M299.9 204.4h0M303.8 202.3h0M297.4 204.3h0M296.3 203.5h0M298 204.2h0M302.8 204h0M299.8 203.3h0M299.8 202.3h0M300 203h0M303.6 202.3h0M295.6 205h0M298.6 202.3h0M311.2 187h0M312.6 186.9h0M312.2 188h0M314.4 185.6h0M310.6 190.1h0M311.1 164.5h0M308.2 172.6h0M311.9 149h0M317 151h0M309.9 118.4h0M313.8 121.2h0M318.6 126.3h0M311.4 137.3h0M319.6 230.4h0M315 221.3h0M309.5 223.2h0M307 235.5h0M319 219.5h0M314 204.7h0M311.4 204.2h0M316.5 205h0M315.6 205.9h0M311.1 205.8h0M310 205.8h0M315.9 205.7h0M318 204.1h0M314.9 204.2h0M309.4 204.8h0M317.3 205.7h0M308.6 204.4h0M317.6 204.4h0M315.9 205.2h0M326.1 189.1h0M334.2 186.4h0M333.6 175.8h0M322.3 172.6h0M326.8 167.9h0M331 151.4h0M325 148.3h0M331 150.8h0M329.5 153.9h0M323.3 150.9h0M322.9 145h0M333.7 154.4h0M330.2 151.5h0M333.5 131.3h0M330.8 124.4h0M323.3 134.4h0M332.1 124.2h0M323.2 135.7h0M322.7 123.5h0M325.3 131.6h0M327.2 150.2h0M326.1 139h0M324.2 126.9h0M322.9 134.2h0M323.9 134.6h0M334.9 141.9h0M330.4 138.6h0M323.3 118h0M324.7 132.4h0M334.6 121.1h0M332.9 126.9h0M334 116.4h0M323.7 129.2h0M325.7 139.1h0M336 117.7h0M325.9 227.2h0M329.3 220.5h0M331.7 220.2h0M322.3 233.5h0M330.4 225.9h0M323.3 229.8h0M325.1 205.7h0M334.7 205.8h0M331.1 207.1h0M326.2 207.5h0M330 205.1h0M323.4 205.2h0M322.8 205.4h0M322.7 205h0M329.8 205.7h0M325.6 205.6h0M331.2 205.5h0M332.8 207.2h0M324 206.6h0M322.3 206.1h0M74.3 86.8h0M108.8 83.9h0M114.5 71.8h0M128 55h0M136.3 60.8h0M133.8 78.1h0M145 78.1h0M170.8 88.5h0M120.8 102.4h0M188 77.5h0M302 102.9h0M96 118.5h0M200 112.8h0M227 116.8h0M176 149.7h0M198.5 134.1h0" stroke="#535353" stroke-width="1.6" stroke-linecap="square" fill="none"/>
</g>
<path d="M84.2 37.7V239.8M101.6 37.7V239.8M119.2 37.7V239.8M137.6 37.7V239.8M155.3 37.7V239.8M173.3 37.7V239.8M189 37.7V239.8M205.3 37.7V239.8M221.9 37.7V239.8M238.8 37.7V239.8M255.9 37.7V239.8M273.3 37.7V239.8M289.3 37.7V239.8M305.2 37.7V239.8M320.8 37.7V239.8" stroke="#e0e0e0" stroke-width=".9" stroke-dasharray="2.4 1.8" fill="none"/>
<path d="M66.8 165.38H336.8" stroke="#585858" stroke-width="1.1"/>
<text x="335.5" y="163.98" text-anchor="end" style="font-family:'Liberation Sans',sans-serif;font-size:6.3px" fill="#333">12889</text>
<rect x="66.8" y="37.7" width="270" height="202.1" fill="none" stroke="#767676" stroke-width="1"/>
<path d="M66.8 37.7V239.8" stroke="#7c7c7c" stroke-width="1.4"/>
<path d="M66.3 239.8H337.3" stroke="#5a5a5a" stroke-width="1.2"/>
<path d="M64 239.8H68.8M334.6 239.8H336.8M64 210.93H68.8M334.6 210.93H336.8M64 182.06H68.8M334.6 182.06H336.8M64 153.19H68.8M334.6 153.19H336.8M64 124.31H68.8M334.6 124.31H336.8M64 95.44H68.8M334.6 95.44H336.8M64 66.57H68.8M334.6 66.57H336.8M64 37.7H68.8M334.6 37.7H336.8M66.8 237.6V242.4M117.72 237.6V242.4M117.72 37.7V39.9M168.64 237.6V242.4M168.64 37.7V39.9M219.57 237.6V242.4M219.57 37.7V39.9M270.49 237.6V242.4M270.49 37.7V39.9M321.41 237.6V242.4M321.41 37.7V39.9" stroke="#555" stroke-width=".9" fill="none"/>
<text x="12.6" y="8.7" xml:space="preserve">A</text>
<text x="188.1" y="24.4" text-anchor="middle" xml:space="preserve">Ch1 Pos:345 Neg:264 767</text>
<text x="76.7" y="35.7" text-anchor="middle" style="font-size:8.6px" xml:space="preserve">A01</text>
<text x="93.55" y="35.7" text-anchor="middle" style="font-size:8.6px" xml:space="preserve">A02</text>
<text x="110.4" y="35.7" text-anchor="middle" style="font-size:8.6px" xml:space="preserve">A03</text>
<text x="127.25" y="35.7" text-anchor="middle" style="font-size:8.6px" xml:space="preserve">A04</text>
<text x="144.1" y="35.7" text-anchor="middle" style="font-size:8.6px" xml:space="preserve">A05</text>
<text x="160.95" y="35.7" text-anchor="middle" style="font-size:8.6px" xml:space="preserve">A06</text>
<text x="177.8" y="35.7" text-anchor="middle" style="font-size:8.6px" xml:space="preserve">H07</text>
<text x="194.65" y="35.7" text-anchor="middle" style="font-size:8.6px" xml:space="preserve">A10</text>
<text x="211.5" y="35.7" text-anchor="middle" style="font-size:8.6px" xml:space="preserve">A11</text>
<text x="228.35" y="35.7" text-anchor="middle" style="font-size:8.6px" xml:space="preserve">A12</text>
<text x="245.2" y="35.7" text-anchor="middle" style="font-size:8.6px" xml:space="preserve">B01</text>
<text x="262.05" y="35.7" text-anchor="middle" style="font-size:8.6px" xml:space="preserve">B02</text>
<text x="278.9" y="35.7" text-anchor="middle" style="font-size:8.6px" xml:space="preserve">B03</text>
<text x="295.75" y="35.7" text-anchor="middle" style="font-size:8.6px" xml:space="preserve">B04</text>
<text x="312.6" y="35.7" text-anchor="middle" style="font-size:8.6px" xml:space="preserve">B05</text>
<text x="329.45" y="35.7" text-anchor="middle" style="font-size:8.6px" xml:space="preserve">B06</text>
<text x="61.9" y="243.5" text-anchor="end" xml:space="preserve">0</text>
<text x="61.9" y="214.63" text-anchor="end" xml:space="preserve">5 000</text>
<text x="61.9" y="185.76" text-anchor="end" xml:space="preserve">10 000</text>
<text x="61.9" y="156.89" text-anchor="end" xml:space="preserve">15 000</text>
<text x="61.9" y="128.01" text-anchor="end" xml:space="preserve">20 000</text>
<text x="61.9" y="99.14" text-anchor="end" xml:space="preserve">25 000</text>
<text x="61.9" y="70.27" text-anchor="end" xml:space="preserve">30 000</text>
<text x="61.9" y="41.4" text-anchor="end" xml:space="preserve">35 000</text>
<text x="66.8" y="255.5" text-anchor="middle" xml:space="preserve">0</text>
<text x="117.72" y="255.5" text-anchor="middle" xml:space="preserve">50 000</text>
<text x="168.64" y="255.5" text-anchor="middle" xml:space="preserve">100 000</text>
<text x="219.57" y="255.5" text-anchor="middle" xml:space="preserve">150 000</text>
<text x="270.49" y="255.5" text-anchor="middle" xml:space="preserve">200 000</text>
<text x="321.41" y="255.5" text-anchor="middle" xml:space="preserve">250 000</text>
<text x="201" y="272.7" text-anchor="middle" xml:space="preserve">Event number</text>
<text transform="translate(19.7,126.3) rotate(-90)" text-anchor="middle">Ch1 amplitude</text>
<g transform="translate(171.4,59.9)" fill="#111">
<text x="0" font-style="italic" xml:space="preserve">NDUFA</text>
<text x="39.73" xml:space="preserve">4L2</text>
</g>
<path d="M412.3 210.24H688.6M412.3 181.29H688.6M412.3 152.33H688.6M412.3 123.37H688.6M412.3 94.41H688.6M412.3 65.46H688.6" stroke="#ebebeb" stroke-width=".9" fill="none"/>
<path d="M464.41 36.5V239.2M516.52 36.5V239.2M568.63 36.5V239.2M620.74 36.5V239.2M672.85 36.5V239.2" stroke="#ebebeb" stroke-width=".8" stroke-dasharray="2.2 1.6" fill="none"/>
<use href="#sc" transform="translate(412.3,36.5) scale(1.02333,1.00297) translate(-66.8,-37.7)"/>
<path d="M430.11 36.5V239.2M447.91 36.5V239.2M465.92 36.5V239.2M484.75 36.5V239.2M502.87 36.5V239.2M521.29 36.5V239.2M537.35 36.5V239.2M554.03 36.5V239.2M571.02 36.5V239.2M588.31 36.5V239.2M605.81 36.5V239.2M623.62 36.5V239.2M639.99 36.5V239.2M656.26 36.5V239.2M672.23 36.5V239.2" stroke="#e0e0e0" stroke-width=".9" stroke-dasharray="2.4 1.8" fill="none"/>
<path d="M412.3 164.55H688.6" stroke="#585858" stroke-width="1.1"/>
<text x="687.3" y="163.15" text-anchor="end" style="font-family:'Liberation Sans',sans-serif;font-size:6.3px" fill="#333">12889</text>
<rect x="412.3" y="36.5" width="276.3" height="202.7" fill="none" stroke="#767676" stroke-width="1"/>
<path d="M412.3 36.5V239.2" stroke="#7c7c7c" stroke-width="1.4"/>
<path d="M411.8 239.2H689.1" stroke="#5a5a5a" stroke-width="1.2"/>
<path d="M409.5 239.2H414.3M686.4 239.2H688.6M409.5 210.24H414.3M686.4 210.24H688.6M409.5 181.29H414.3M686.4 181.29H688.6M409.5 152.33H414.3M686.4 152.33H688.6M409.5 123.37H414.3M686.4 123.37H688.6M409.5 94.41H414.3M686.4 94.41H688.6M409.5 65.46H414.3M686.4 65.46H688.6M409.5 36.5H414.3M686.4 36.5H688.6M412.3 237V241.8M464.41 237V241.8M464.41 36.5V38.7M516.52 237V241.8M516.52 36.5V38.7M568.63 237V241.8M568.63 36.5V38.7M620.74 237V241.8M620.74 36.5V38.7M672.85 237V241.8M672.85 36.5V38.7" stroke="#555" stroke-width=".9" fill="none"/>
<text x="359.3" y="8.7" xml:space="preserve">B</text>
<text x="533.1" y="21.6" text-anchor="middle" xml:space="preserve">Ch1 Pos:345 Neg:264 767</text>
<text x="421.9" y="34.6" text-anchor="middle" style="font-size:8.6px" xml:space="preserve">A01</text>
<text x="440.15" y="34.6" text-anchor="middle" style="font-size:8.6px" xml:space="preserve">A02</text>
<text x="458.35" y="34.6" text-anchor="middle" style="font-size:8.6px" xml:space="preserve">A03</text>
<text x="476.6" y="34.6" text-anchor="middle" style="font-size:8.6px" xml:space="preserve">A04</text>
<text x="494.8" y="34.6" text-anchor="middle" style="font-size:8.6px" xml:space="preserve">A05</text>
<text x="513.2" y="34.6" text-anchor="middle" style="font-size:8.6px" xml:space="preserve">A06</text>
<text x="528.4" y="34.6" text-anchor="middle" style="font-size:8.6px" xml:space="preserve">H07</text>
<text x="546.1" y="34.6" text-anchor="middle" style="font-size:8.6px" xml:space="preserve">A10</text>
<text x="562.6" y="34.6" text-anchor="middle" style="font-size:8.6px" xml:space="preserve">A11</text>
<text x="579.6" y="34.6" text-anchor="middle" style="font-size:8.6px" xml:space="preserve">A12</text>
<text x="596.5" y="34.6" text-anchor="middle" style="font-size:8.6px" xml:space="preserve">B01</text>
<text x="613.1" y="34.6" text-anchor="middle" style="font-size:8.6px" xml:space="preserve">B02</text>
<text x="629.7" y="34.6" text-anchor="middle" style="font-size:8.6px" xml:space="preserve">B03</text>
<text x="646.5" y="34.6" text-anchor="middle" style="font-size:8.6px" xml:space="preserve">B04</text>
<text x="663.2" y="34.6" text-anchor="middle" style="font-size:8.6px" xml:space="preserve">B05</text>
<text x="679.8" y="34.6" text-anchor="middle" style="font-size:8.6px" xml:space="preserve">B06</text>
<text x="408.1" y="242.9" text-anchor="end" xml:space="preserve">0</text>
<text x="408.1" y="213.94" text-anchor="end" xml:space="preserve">5 000</text>
<text x="408.1" y="184.99" text-anchor="end" xml:space="preserve">10 000</text>
<text x="408.1" y="156.03" text-anchor="end" xml:space="preserve">15 000</text>
<text x="408.1" y="127.07" text-anchor="end" xml:space="preserve">20 000</text>
<text x="408.1" y="98.11" text-anchor="end" xml:space="preserve">25 000</text>
<text x="408.1" y="69.16" text-anchor="end" xml:space="preserve">30 000</text>
<text x="408.1" y="40.2" text-anchor="end" xml:space="preserve">35 000</text>
<text x="412.3" y="255.1" text-anchor="middle" xml:space="preserve">0</text>
<text x="464.41" y="255.1" text-anchor="middle" xml:space="preserve">50 000</text>
<text x="516.52" y="255.1" text-anchor="middle" xml:space="preserve">100 000</text>
<text x="568.63" y="255.1" text-anchor="middle" xml:space="preserve">150 000</text>
<text x="620.74" y="255.1" text-anchor="middle" xml:space="preserve">200 000</text>
<text x="672.85" y="255.1" text-anchor="middle" xml:space="preserve">250 000</text>
<text x="550.5" y="271.8" text-anchor="middle" xml:space="preserve">Event number</text>
<text transform="translate(366.1,126.2) rotate(-90)" text-anchor="middle">Ch1 amplitude</text>
<g transform="translate(526.6,62.1)" fill="#111">
<text x="0" font-style="italic" xml:space="preserve">IDH</text>
<text x="22.04" xml:space="preserve">3α</text>
</g>
<rect x="581.2" y="50.8" width="1.5" height="1.5" fill="#505050"/>
<text x="11.8" y="292.8" xml:space="preserve">C</text>
<g transform="translate(163.4,299.8)" fill="#111">
<text class="cj" x="-73.03" y="0.79" style="font-size:12.55px;letter-spacing:-0.25px" xml:space="preserve">卵母细胞中</text>
<text x="-11.4" font-style="italic" xml:space="preserve">NDUFA</text>
<text x="28.33" xml:space="preserve">4L2</text>
<text class="cj" x="48.18" y="0.79" style="font-size:12.55px;letter-spacing:-0.25px" xml:space="preserve">水平</text>
</g>
<g transform="translate(158.3,314.8)" fill="#111">
<text x="-54.3" font-style="italic" xml:space="preserve">NDUFA</text>
<text x="-14.57" xml:space="preserve">4L2 in oocyte</text>
</g>
<path d="M119.6 404.6V402.2M116.8 402.2H122.4" stroke="#d0d0d0" stroke-width=".9" fill="none"/>
<rect x="114" y="404.6" width="11.2" height="26.5" fill="#dadada"/>
<path d="M136.5 420V415.9M133.7 415.9H139.3" stroke="#c4c4c4" stroke-width=".9" fill="none"/>
<rect x="130.9" y="420" width="11.2" height="11.1" fill="#cdcdcd"/>
<path d="M153.5 368V357.5M150.7 357.5H156.3" stroke="#949494" stroke-width=".9" fill="none"/>
<rect x="147.9" y="368" width="11.2" height="63.1" fill="#9b9b9b"/>
<path d="M170.4 408.4V402M167.6 402H173.2" stroke="#666" stroke-width=".9" fill="none"/>
<rect x="164.8" y="408.4" width="11.2" height="22.7" fill="#666"/>
<path d="M187.4 420.4V419.3M184.6 419.3H190.2" stroke="#808080" stroke-width=".9" fill="none"/>
<rect x="181.8" y="420.4" width="11.2" height="10.7" fill="#868686"/>
<path d="M204.4 427V426.3M201.6 426.3H207.2" stroke="#9a9a9a" stroke-width=".9" fill="none"/>
<rect x="199.3" y="427.5" width="10.2" height="3.6" fill="#cfcfcf" stroke="#8e8e8e" stroke-width="1"/>
<path d="M108.6 345.6V431.1H217.4M102 431.1H108.6M102 414.12H108.6M102 397.14H108.6M102 380.16H108.6M102 363.18H108.6M102 346.2H108.6M119.6 431.1V436.1M136.5 431.1V436.1M153.5 431.1V436.1M170.4 431.1V436.1M187.4 431.1V436.1M204.4 431.1V436.1" stroke="#555" stroke-width="1.35" fill="none"/>
<text x="98.8" y="435.2" text-anchor="end" xml:space="preserve">0.0</text>
<text x="98.8" y="418.22" text-anchor="end" xml:space="preserve">0.2</text>
<text x="98.8" y="401.24" text-anchor="end" xml:space="preserve">0.4</text>
<text x="98.8" y="384.26" text-anchor="end" xml:space="preserve">0.6</text>
<text x="98.8" y="367.28" text-anchor="end" xml:space="preserve">0.8</text>
<text x="98.8" y="350.3" text-anchor="end" xml:space="preserve">1.0</text>
<path d="M120 399V393.7H136.6V411.5" stroke="#6a6a6a" stroke-width=".8" fill="none"/>
<path d="M125.1 382.4L125.1 387.4M127.27 383.65L122.93 386.15M127.27 386.15L122.93 383.65" stroke="#222" stroke-width="1" fill="none"/>
<path d="M131.5 382.4L131.5 387.4M133.67 383.65L129.33 386.15M133.67 386.15L129.33 383.65" stroke="#222" stroke-width="1" fill="none"/>
<path d="M151.6 354.2V346.8H170.6V398.2" stroke="#6a6a6a" stroke-width=".8" fill="none"/>
<path d="M157.9 338.1L157.9 343.1M160.07 339.35L155.73 341.85M160.07 341.85L155.73 339.35" stroke="#222" stroke-width="1" fill="none"/>
<path d="M164.3 338.1L164.3 343.1M166.47 339.35L162.13 341.85M166.47 341.85L162.13 339.35" stroke="#222" stroke-width="1" fill="none"/>
<path d="M186.6 417.4V412.5H204.6V424.8" stroke="#6a6a6a" stroke-width=".8" fill="none"/>
<path d="M192.4 401.4L192.4 406.4M194.57 402.65L190.23 405.15M194.57 405.15L190.23 402.65" stroke="#222" stroke-width="1" fill="none"/>
<path d="M198.8 401.4L198.8 406.4M200.97 402.65L196.63 405.15M200.97 405.15L196.63 402.65" stroke="#222" stroke-width="1" fill="none"/>
<g transform="translate(63.4,393.9) rotate(-90)" fill="#111">
<text class="cj" x="-63.96" y="1.01" style="font-size:12.5px;letter-spacing:-0.75px" xml:space="preserve">相对表达量</text>
<text x="-4.8" style="font-size:12.5px" xml:space="preserve">/(copies·μL</text>
<text x="53.27" y="-3.38" style="font-size:5.75px" xml:space="preserve">−1</text>
<text x="59.39" style="font-size:12.5px" xml:space="preserve">)</text>
</g>
<text transform="translate(74.6,394.3) rotate(-90)" text-anchor="middle">Relative expression</text>
<g transform="translate(121.6,441.2) rotate(-56)" fill="#111">
<text x="-52.1" xml:space="preserve">0 h</text>
<text class="cj" x="-36.72" y="0.79" style="letter-spacing:-0.2px" xml:space="preserve">一二级</text>
</g>
<g transform="translate(139.5,441.2) rotate(-56)" fill="#111">
<text x="-52.1" xml:space="preserve">0 h</text>
<text class="cj" x="-36.72" y="0.79" style="letter-spacing:-0.2px" xml:space="preserve">三四级</text>
</g>
<g transform="translate(158,441.2) rotate(-56)" fill="#111">
<text x="-58.3" xml:space="preserve">12 h</text>
<text class="cj" x="-36.72" y="0.79" style="letter-spacing:-0.2px" xml:space="preserve">一二级</text>
</g>
<g transform="translate(175.4,441.2) rotate(-56)" fill="#111">
<text x="-58.3" xml:space="preserve">12 h</text>
<text class="cj" x="-36.72" y="0.79" style="letter-spacing:-0.2px" xml:space="preserve">三四级</text>
</g>
<g transform="translate(193.3,441.2) rotate(-56)" fill="#111">
<text x="-58.3" xml:space="preserve">24 h</text>
<text class="cj" x="-36.72" y="0.79" style="letter-spacing:-0.2px" xml:space="preserve">一二级</text>
</g>
<g transform="translate(211.1,441.2) rotate(-56)" fill="#111">
<text x="-58.3" xml:space="preserve">24 h</text>
<text class="cj" x="-36.72" y="0.79" style="letter-spacing:-0.2px" xml:space="preserve">三四级</text>
</g>
<g transform="translate(136.5,506.4)" fill="#111">
<text class="cj" x="-29.82" y="0.79" style="font-size:12.55px;letter-spacing:-0.25px" xml:space="preserve">组别</text>
<text x="-5.09" xml:space="preserve"> Group</text>
</g>
<text x="260.6" y="292" xml:space="preserve">D</text>
<g transform="translate(386.5,299.8)" fill="#111">
<text class="cj" x="-73.03" y="0.79" style="font-size:12.55px;letter-spacing:-0.25px" xml:space="preserve">卵母细胞中</text>
<text x="-11.4" font-style="italic" xml:space="preserve">NDUFA</text>
<text x="28.33" xml:space="preserve">4L2</text>
<text class="cj" x="48.18" y="0.79" style="font-size:12.55px;letter-spacing:-0.25px" xml:space="preserve">水平</text>
</g>
<g transform="translate(382.7,314.8)" fill="#111">
<text x="-54.3" font-style="italic" xml:space="preserve">NDUFA</text>
<text x="-14.57" xml:space="preserve">4L2 in oocyte</text>
</g>
<path d="M346.6 405.7V403.1M340.95 403.1H352.25" stroke="#d0d0d0" stroke-width=".9" fill="none"/>
<rect x="335.3" y="405.7" width="22.6" height="24.2" fill="#dadada"/>
<path d="M380.4 372.1V362.4M374.75 362.4H386.05" stroke="#c4c4c4" stroke-width=".9" fill="none"/>
<rect x="369.1" y="372.1" width="22.6" height="57.8" fill="#cdcdcd"/>
<path d="M414.5 420.1V419M408.85 419H420.15" stroke="#949494" stroke-width=".9" fill="none"/>
<rect x="403.2" y="420.1" width="22.6" height="9.8" fill="#9b9b9b"/>
<path d="M324 350.9V429.9H437.3M317.4 429.9H324M317.4 414.22H324M317.4 398.54H324M317.4 382.86H324M317.4 367.18H324M317.4 351.5H324M346.6 429.9V434.9M380.4 429.9V434.9M414.5 429.9V434.9" stroke="#555" stroke-width="1.35" fill="none"/>
<text x="315.4" y="434" text-anchor="end" xml:space="preserve">0.0</text>
<text x="315.4" y="418.32" text-anchor="end" xml:space="preserve">0.2</text>
<text x="315.4" y="402.64" text-anchor="end" xml:space="preserve">0.4</text>
<text x="315.4" y="386.96" text-anchor="end" xml:space="preserve">0.6</text>
<text x="315.4" y="371.28" text-anchor="end" xml:space="preserve">0.8</text>
<text x="315.4" y="355.6" text-anchor="end" xml:space="preserve">1.0</text>
<text x="346.5" y="397.1" text-anchor="middle" xml:space="preserve">b</text>
<text x="379.6" y="358.6" text-anchor="middle" xml:space="preserve">a</text>
<text x="414.5" y="412.7" text-anchor="middle" xml:space="preserve">c</text>
<g transform="translate(279.6,393.9) rotate(-90)" fill="#111">
<text class="cj" x="-63.96" y="1.01" style="font-size:12.5px;letter-spacing:-0.75px" xml:space="preserve">相对表达量</text>
<text x="-4.8" style="font-size:12.5px" xml:space="preserve">/(copies·μL</text>
<text x="53.27" y="-3.38" style="font-size:5.75px" xml:space="preserve">−1</text>
<text x="59.39" style="font-size:12.5px" xml:space="preserve">)</text>
</g>
<text transform="translate(291.6,394.3) rotate(-90)" text-anchor="middle">Relative expression</text>
<g transform="translate(353.9,440.9) rotate(-56)" fill="#111">
<text x="-52.1" xml:space="preserve">0 h</text>
<text class="cj" x="-36.72" y="0.79" style="letter-spacing:-0.2px" xml:space="preserve">一二级</text>
</g>
<g transform="translate(387.7,440.9) rotate(-56)" fill="#111">
<text x="-58.3" xml:space="preserve">12 h</text>
<text class="cj" x="-36.72" y="0.79" style="letter-spacing:-0.2px" xml:space="preserve">一二级</text>
</g>
<g transform="translate(421.8,440.9) rotate(-56)" fill="#111">
<text x="-58.3" xml:space="preserve">24 h</text>
<text class="cj" x="-36.72" y="0.79" style="letter-spacing:-0.2px" xml:space="preserve">一二级</text>
</g>
<g transform="translate(369.9,507)" fill="#111">
<text class="cj" x="-29.82" y="0.79" style="font-size:12.55px;letter-spacing:-0.25px" xml:space="preserve">组别</text>
<text x="-5.09" xml:space="preserve"> Group</text>
</g>
<text x="488.6" y="292" xml:space="preserve">E</text>
<g transform="translate(610,299.8)" fill="#111">
<text class="cj" x="-73.03" y="0.79" style="font-size:12.55px;letter-spacing:-0.25px" xml:space="preserve">卵母细胞中</text>
<text x="-11.4" font-style="italic" xml:space="preserve">NDUFA</text>
<text x="28.33" xml:space="preserve">4L2</text>
<text class="cj" x="48.18" y="0.79" style="font-size:12.55px;letter-spacing:-0.25px" xml:space="preserve">水平</text>
</g>
<g transform="translate(606.2,314.8)" fill="#111">
<text x="-54.3" font-style="italic" xml:space="preserve">NDUFA</text>
<text x="-14.57" xml:space="preserve">4L2 in oocyte</text>
</g>
<path d="M577.1 407.2V398.2M571.9 398.2H582.3" stroke="#d0d0d0" stroke-width=".9" fill="none"/>
<rect x="566.7" y="407.2" width="20.8" height="23.6" fill="#dadada"/>
<path d="M608.6 382.6V369.3M603.4 369.3H613.8" stroke="#c4c4c4" stroke-width=".9" fill="none"/>
<rect x="598.2" y="382.6" width="20.8" height="48.2" fill="#cdcdcd"/>
<path d="M639.7 421.4V420M634.5 420H644.9" stroke="#949494" stroke-width=".9" fill="none"/>
<rect x="629.3" y="421.4" width="20.8" height="9.4" fill="#9b9b9b"/>
<path d="M556.9 358.6V430.8H661.4M550.3 430.8H556.9M550.3 395H556.9M550.3 359.2H556.9M577.1 430.8V435.8M608.6 430.8V435.8M639.7 430.8V435.8" stroke="#555" stroke-width="1.35" fill="none"/>
<text x="549.3" y="434.9" text-anchor="end" xml:space="preserve">0.0</text>
<text x="549.3" y="399.1" text-anchor="end" xml:space="preserve">0.2</text>
<text x="549.3" y="363.3" text-anchor="end" xml:space="preserve">0.4</text>
<text x="576.1" y="386" text-anchor="middle" xml:space="preserve">b</text>
<text x="608.3" y="356.4" text-anchor="middle" xml:space="preserve">a</text>
<text x="639.3" y="408.9" text-anchor="middle" xml:space="preserve">b</text>
<g transform="translate(513.9,394) rotate(-90)" fill="#111">
<text class="cj" x="-63.96" y="1.01" style="font-size:12.5px;letter-spacing:-0.75px" xml:space="preserve">相对表达量</text>
<text x="-4.8" style="font-size:12.5px" xml:space="preserve">/(copies·μL</text>
<text x="53.27" y="-3.38" style="font-size:5.75px" xml:space="preserve">−1</text>
<text x="59.39" style="font-size:12.5px" xml:space="preserve">)</text>
</g>
<text transform="translate(525.9,394.4) rotate(-90)" text-anchor="middle">Relative expression</text>
<g transform="translate(584.4,441.8) rotate(-56)" fill="#111">
<text x="-52.1" xml:space="preserve">0 h</text>
<text class="cj" x="-36.72" y="0.79" style="letter-spacing:-0.2px" xml:space="preserve">三四级</text>
</g>
<g transform="translate(615.9,441.8) rotate(-56)" fill="#111">
<text x="-58.3" xml:space="preserve">12 h</text>
<text class="cj" x="-36.72" y="0.79" style="letter-spacing:-0.2px" xml:space="preserve">三四级</text>
</g>
<g transform="translate(647,441.8) rotate(-56)" fill="#111">
<text x="-58.3" xml:space="preserve">24 h</text>
<text class="cj" x="-36.72" y="0.79" style="letter-spacing:-0.2px" xml:space="preserve">三四级</text>
</g>
<g transform="translate(601.4,507)" fill="#111">
<text class="cj" x="-29.82" y="0.79" style="font-size:12.55px;letter-spacing:-0.25px" xml:space="preserve">组别</text>
<text x="-5.09" xml:space="preserve"> Group</text>
</g>
<text x="42" y="530.2" xml:space="preserve">F</text>
<g transform="translate(163.7,539.6)" fill="#111">
<text class="cj" x="-60.54" y="0.79" style="font-size:12.55px;letter-spacing:-0.25px" xml:space="preserve">卵母细胞中</text>
<text x="1.08" font-style="italic" xml:space="preserve">IDH</text>
<text x="23.12" xml:space="preserve">3α</text>
<text class="cj" x="35.7" y="0.79" style="font-size:12.55px;letter-spacing:-0.25px" xml:space="preserve">水平</text>
</g>
<g transform="translate(159.4,555.8)" fill="#111">
<text x="-41.82" font-style="italic" xml:space="preserve">IDH</text>
<text x="-19.78" xml:space="preserve">3α in oocyte</text>
</g>
<path d="M116.85 644.2V639.3M114.17 639.3H119.52" stroke="#d0d0d0" stroke-width=".9" fill="none"/>
<rect x="111.5" y="644.2" width="10.7" height="17.3" fill="#dadada"/>
<path d="M134.25 643.6V639.9M131.57 639.9H136.93" stroke="#c4c4c4" stroke-width=".9" fill="none"/>
<rect x="128.9" y="643.6" width="10.7" height="17.9" fill="#cdcdcd"/>
<path d="M151.35 621.5V614.2M148.67 614.2H154.03" stroke="#949494" stroke-width=".9" fill="none"/>
<rect x="146" y="621.5" width="10.7" height="40" fill="#9b9b9b"/>
<path d="M168.45 599.6V590M165.77 590H171.12" stroke="#666" stroke-width=".9" fill="none"/>
<rect x="163.1" y="599.6" width="10.7" height="61.9" fill="#666"/>
<path d="M185.65 651.7V649.6M182.97 649.6H188.33" stroke="#808080" stroke-width=".9" fill="none"/>
<rect x="180.3" y="651.7" width="10.7" height="9.8" fill="#868686"/>
<path d="M202.75 655.8V653.6M200.07 653.6H205.43" stroke="#9a9a9a" stroke-width=".9" fill="none"/>
<rect x="197.9" y="656.3" width="9.7" height="5.2" fill="#cfcfcf" stroke="#8e8e8e" stroke-width="1"/>
<path d="M105.7 582.1V661.5H215M99.1 661.5H105.7M99.1 641.8H105.7M99.1 622.1H105.7M99.1 602.4H105.7M99.1 582.7H105.7M116.85 661.5V666.5M134.25 661.5V666.5M151.35 661.5V666.5M168.45 661.5V666.5M185.65 661.5V666.5M202.75 661.5V666.5" stroke="#555" stroke-width="1.35" fill="none"/>
<text x="94.8" y="665.6" text-anchor="end" xml:space="preserve">0.0</text>
<text x="94.8" y="645.9" text-anchor="end" xml:space="preserve">0.5</text>
<text x="94.8" y="626.2" text-anchor="end" xml:space="preserve">1.0</text>
<text x="94.8" y="606.5" text-anchor="end" xml:space="preserve">1.5</text>
<text x="94.8" y="586.8" text-anchor="end" xml:space="preserve">2.0</text>
<path d="M116.6 637.1V630.7H134.2V637.1" stroke="#6a6a6a" stroke-width=".8" fill="none"/>
<text x="125.4" y="623.9" text-anchor="middle" xml:space="preserve">ns</text>
<path d="M151.6 609.3V580.4H168.8V585.7" stroke="#6a6a6a" stroke-width=".8" fill="none"/>
<path d="M160.2 568.6L160.2 573.6M162.37 569.85L158.03 572.35M162.37 572.35L158.03 569.85" stroke="#222" stroke-width="1" fill="none"/>
<path d="M186.3 646.8V640.4H204.6V651.1" stroke="#6a6a6a" stroke-width=".8" fill="none"/>
<path d="M195.45 627.1L195.45 632.1M197.62 628.35L193.28 630.85M197.62 630.85L193.28 628.35" stroke="#222" stroke-width="1" fill="none"/>
<g transform="translate(62,626.9) rotate(-90)" fill="#111">
<text class="cj" x="-63.96" y="1.01" style="font-size:12.5px;letter-spacing:-0.75px" xml:space="preserve">相对表达量</text>
<text x="-4.8" style="font-size:12.5px" xml:space="preserve">/(copies·μL</text>
<text x="53.27" y="-3.38" style="font-size:5.75px" xml:space="preserve">−1</text>
<text x="59.39" style="font-size:12.5px" xml:space="preserve">)</text>
</g>
<text transform="translate(73.3,627.3) rotate(-90)" text-anchor="middle">Relative expression</text>
<g transform="translate(118.85,672.4) rotate(-56)" fill="#111">
<text x="-52.1" xml:space="preserve">0 h</text>
<text class="cj" x="-36.72" y="0.79" style="letter-spacing:-0.2px" xml:space="preserve">一二级</text>
</g>
<g transform="translate(137.25,672.4) rotate(-56)" fill="#111">
<text x="-52.1" xml:space="preserve">0 h</text>
<text class="cj" x="-36.72" y="0.79" style="letter-spacing:-0.2px" xml:space="preserve">三四级</text>
</g>
<g transform="translate(155.85,672.4) rotate(-56)" fill="#111">
<text x="-58.3" xml:space="preserve">12 h</text>
<text class="cj" x="-36.72" y="0.79" style="letter-spacing:-0.2px" xml:space="preserve">一二级</text>
</g>
<g transform="translate(173.45,672.4) rotate(-56)" fill="#111">
<text x="-58.3" xml:space="preserve">12 h</text>
<text class="cj" x="-36.72" y="0.79" style="letter-spacing:-0.2px" xml:space="preserve">三四级</text>
</g>
<g transform="translate(191.55,672.4) rotate(-56)" fill="#111">
<text x="-58.3" xml:space="preserve">24 h</text>
<text class="cj" x="-36.72" y="0.79" style="letter-spacing:-0.2px" xml:space="preserve">一二级</text>
</g>
<g transform="translate(209.45,672.4) rotate(-56)" fill="#111">
<text x="-58.3" xml:space="preserve">24 h</text>
<text class="cj" x="-36.72" y="0.79" style="letter-spacing:-0.2px" xml:space="preserve">三四级</text>
</g>
<g transform="translate(134.5,737.7)" fill="#111">
<text class="cj" x="-29.82" y="0.79" style="font-size:12.55px;letter-spacing:-0.25px" xml:space="preserve">组别</text>
<text x="-5.09" xml:space="preserve"> Group</text>
</g>
<text x="253.7" y="530.2" xml:space="preserve">G</text>
<g transform="translate(375.8,539.8)" fill="#111">
<text class="cj" x="-60.54" y="0.79" style="font-size:12.55px;letter-spacing:-0.25px" xml:space="preserve">卵母细胞中</text>
<text x="1.08" font-style="italic" xml:space="preserve">IDH</text>
<text x="23.12" xml:space="preserve">3α</text>
<text class="cj" x="35.7" y="0.79" style="font-size:12.55px;letter-spacing:-0.25px" xml:space="preserve">水平</text>
</g>
<g transform="translate(371,556.2)" fill="#111">
<text x="-41.82" font-style="italic" xml:space="preserve">IDH</text>
<text x="-19.78" xml:space="preserve">3α in oocyte</text>
</g>
<path d="M345.65 641.4V634.3M340.02 634.3H351.27" stroke="#d0d0d0" stroke-width=".9" fill="none"/>
<rect x="334.4" y="641.4" width="22.5" height="21.7" fill="#dadada"/>
<path d="M379.85 611.8V602.6M374.23 602.6H385.48" stroke="#c4c4c4" stroke-width=".9" fill="none"/>
<rect x="368.6" y="611.8" width="22.5" height="51.3" fill="#cdcdcd"/>
<path d="M414.35 650.8V648.4M408.73 648.4H419.98" stroke="#949494" stroke-width=".9" fill="none"/>
<rect x="403.1" y="650.8" width="22.5" height="12.3" fill="#9b9b9b"/>
<path d="M322.8 586.45V663.1H437.8M316.2 663.1H322.8M316.2 637.75H322.8M316.2 612.4H322.8M316.2 587.05H322.8M345.65 663.1V668.1M379.85 663.1V668.1M414.35 663.1V668.1" stroke="#555" stroke-width="1.35" fill="none"/>
<text x="311.9" y="667.2" text-anchor="end" xml:space="preserve">0.0</text>
<text x="311.9" y="641.85" text-anchor="end" xml:space="preserve">0.5</text>
<text x="311.9" y="616.5" text-anchor="end" xml:space="preserve">1.0</text>
<text x="311.9" y="591.15" text-anchor="end" xml:space="preserve">1.5</text>
<text x="343.6" y="626.1" text-anchor="middle" xml:space="preserve">b</text>
<text x="380.4" y="599.6" text-anchor="middle" xml:space="preserve">a</text>
<text x="412.1" y="641.4" text-anchor="middle" xml:space="preserve">b</text>
<g transform="translate(277.7,626.9) rotate(-90)" fill="#111">
<text class="cj" x="-63.96" y="1.01" style="font-size:12.5px;letter-spacing:-0.75px" xml:space="preserve">相对表达量</text>
<text x="-4.8" style="font-size:12.5px" xml:space="preserve">/(copies·μL</text>
<text x="53.27" y="-3.38" style="font-size:5.75px" xml:space="preserve">−1</text>
<text x="59.39" style="font-size:12.5px" xml:space="preserve">)</text>
</g>
<text transform="translate(289.1,627.3) rotate(-90)" text-anchor="middle">Relative expression</text>
<g transform="translate(352.95,674.1) rotate(-56)" fill="#111">
<text x="-52.1" xml:space="preserve">0 h</text>
<text class="cj" x="-36.72" y="0.79" style="letter-spacing:-0.2px" xml:space="preserve">一二级</text>
</g>
<g transform="translate(387.15,674.1) rotate(-56)" fill="#111">
<text x="-58.3" xml:space="preserve">12 h</text>
<text class="cj" x="-36.72" y="0.79" style="letter-spacing:-0.2px" xml:space="preserve">一二级</text>
</g>
<g transform="translate(421.65,674.1) rotate(-56)" fill="#111">
<text x="-58.3" xml:space="preserve">24 h</text>
<text class="cj" x="-36.72" y="0.79" style="letter-spacing:-0.2px" xml:space="preserve">一二级</text>
</g>
<g transform="translate(368.3,738.1)" fill="#111">
<text class="cj" x="-29.82" y="0.79" style="font-size:12.55px;letter-spacing:-0.25px" xml:space="preserve">组别</text>
<text x="-5.09" xml:space="preserve"> Group</text>
</g>
<text x="472" y="530.2" xml:space="preserve">H</text>
<g transform="translate(606.5,539.8)" fill="#111">
<text class="cj" x="-60.54" y="0.79" style="font-size:12.55px;letter-spacing:-0.25px" xml:space="preserve">卵母细胞中</text>
<text x="1.08" font-style="italic" xml:space="preserve">IDH</text>
<text x="23.12" xml:space="preserve">3α</text>
<text class="cj" x="35.7" y="0.79" style="font-size:12.55px;letter-spacing:-0.25px" xml:space="preserve">水平</text>
</g>
<g transform="translate(601.9,556)" fill="#111">
<text x="-41.82" font-style="italic" xml:space="preserve">IDH</text>
<text x="-19.78" xml:space="preserve">3α in oocyte</text>
</g>
<path d="M559.4 645V641.4M553.8 641.4H565" stroke="#d0d0d0" stroke-width=".9" fill="none"/>
<rect x="548.2" y="645" width="22.4" height="17.3" fill="#dadada"/>
<path d="M593.1 602.8V593.1M587.5 593.1H598.7" stroke="#c4c4c4" stroke-width=".9" fill="none"/>
<rect x="581.9" y="602.8" width="22.4" height="59.5" fill="#cdcdcd"/>
<path d="M626.8 656.8V654.6M621.2 654.6H632.4" stroke="#949494" stroke-width=".9" fill="none"/>
<rect x="615.6" y="656.8" width="22.4" height="5.5" fill="#9b9b9b"/>
<path d="M537.5 585.9V662.3H650.5M530.9 662.3H537.5M530.9 643.35H537.5M530.9 624.4H537.5M530.9 605.45H537.5M530.9 586.5H537.5M559.4 662.3V667.3M593.1 662.3V667.3M626.8 662.3V667.3" stroke="#555" stroke-width="1.35" fill="none"/>
<text x="527.9" y="666.4" text-anchor="end" xml:space="preserve">0.0</text>
<text x="527.9" y="647.45" text-anchor="end" xml:space="preserve">0.5</text>
<text x="527.9" y="628.5" text-anchor="end" xml:space="preserve">1.0</text>
<text x="527.9" y="609.55" text-anchor="end" xml:space="preserve">1.5</text>
<text x="527.9" y="590.6" text-anchor="end" xml:space="preserve">2.0</text>
<text x="557.4" y="633.9" text-anchor="middle" xml:space="preserve">b</text>
<text x="592.6" y="589.3" text-anchor="middle" xml:space="preserve">a</text>
<text x="625.3" y="648.9" text-anchor="middle" xml:space="preserve">c</text>
<g transform="translate(493.8,626.9) rotate(-90)" fill="#111">
<text class="cj" x="-63.96" y="1.01" style="font-size:12.5px;letter-spacing:-0.75px" xml:space="preserve">相对表达量</text>
<text x="-4.8" style="font-size:12.5px" xml:space="preserve">/(copies·μL</text>
<text x="53.27" y="-3.38" style="font-size:5.75px" xml:space="preserve">−1</text>
<text x="59.39" style="font-size:12.5px" xml:space="preserve">)</text>
</g>
<text transform="translate(505.1,627.3) rotate(-90)" text-anchor="middle">Relative expression</text>
<g transform="translate(566.7,673.3) rotate(-56)" fill="#111">
<text x="-52.1" xml:space="preserve">0 h</text>
<text class="cj" x="-36.72" y="0.79" style="letter-spacing:-0.2px" xml:space="preserve">三四级</text>
</g>
<g transform="translate(600.4,673.3) rotate(-56)" fill="#111">
<text x="-58.3" xml:space="preserve">12 h</text>
<text class="cj" x="-36.72" y="0.79" style="letter-spacing:-0.2px" xml:space="preserve">三四级</text>
</g>
<g transform="translate(634.1,673.3) rotate(-56)" fill="#111">
<text x="-58.3" xml:space="preserve">24 h</text>
<text class="cj" x="-36.72" y="0.79" style="letter-spacing:-0.2px" xml:space="preserve">三四级</text>
</g>
<g transform="translate(600,738.1)" fill="#111">
<text class="cj" x="-29.82" y="0.79" style="font-size:12.55px;letter-spacing:-0.25px" xml:space="preserve">组别</text>
<text x="-5.09" xml:space="preserve"> Group</text>
</g>
</svg></body></html>
